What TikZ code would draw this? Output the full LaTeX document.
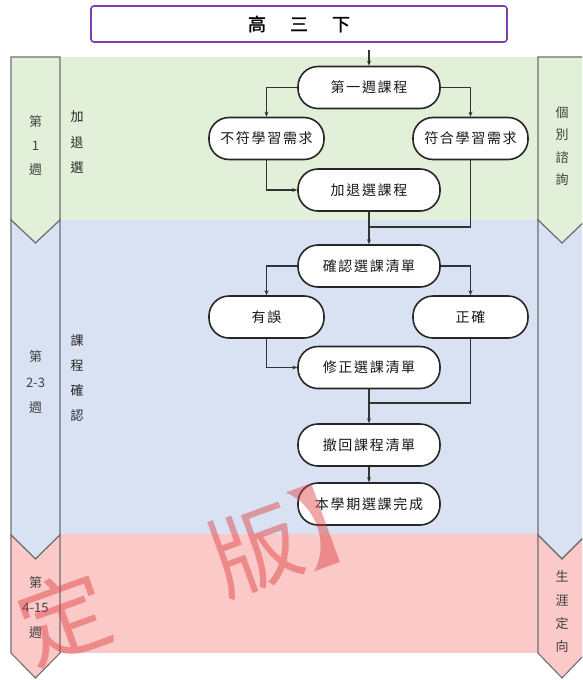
\documentclass[tikz,border=0pt]{standalone}
\usepackage{fontspec}
\setmainfont{Noto Sans CJK TC}
\newfontfamily\nodefont[LetterSpace=12]{Noto Sans CJK TC}
\newfontfamily\titlefont[FakeBold=1.5]{Noto Sans CJK TC}
\usetikzlibrary{arrows.meta}
\definecolor{bgG}{HTML}{E2EFD9}
\definecolor{bgB}{HTML}{D9E2F3}
\definecolor{bgR}{HTML}{FCC9C9}
\definecolor{chevline}{HTML}{6E6E6E}
\definecolor{titleline}{HTML}{7B3FB0}
\definecolor{wm}{HTML}{DC3C3C}
\begin{document}
\begin{tikzpicture}[x=1pt,y=-1pt,
  stad/.style={draw=black!85, line width=1.6pt, fill=white, rounded corners=20pt,
    minimum height=42pt, inner sep=0pt, font=\nodefont\fontsize{14}{16}\selectfont, text=black!90},
  wide/.style={stad, minimum width=142pt},
  narrow/.style={stad, minimum width=115pt},
  chev/.style={draw=chevline, line width=1.1pt},
  ln/.style={draw=black!80, line width=1.2pt},
  arr/.style={ln, -{Stealth[length=5pt,width=4pt]}},
  sidetext/.style={align=center, inner sep=0pt, text=black!75},
]
\useasboundingbox (0,0) rectangle (582,680);
\clip (0,0) rectangle (582,680);

% bands
\fill[bgG] (60,57) rectangle (538,220);
\fill[bgB] (60,220) rectangle (538,534);
\fill[bgR] (60,534) rectangle (538,653);

% left chevrons
\filldraw[chev, fill=bgG] (11,57) -- (60,57) -- (60,220) -- (35.5,243) -- (11,220) -- cycle;
\filldraw[chev, fill=bgB] (11,220) -- (35.5,243) -- (60,220) -- (60,535) -- (35.5,559) -- (11,535) -- cycle;
\filldraw[chev, fill=bgR] (11,535) -- (35.5,559) -- (60,535) -- (60,653) -- (35.5,678) -- (11,653) -- cycle;
% right chevrons
\filldraw[chev, fill=bgG] (538,57) -- (586,57) -- (586,220) -- (562,243) -- (538,220) -- cycle;
\filldraw[chev, fill=bgB] (538,220) -- (562,243) -- (586,220) -- (586,535) -- (562,559) -- (538,535) -- cycle;
\filldraw[chev, fill=bgR] (538,535) -- (562,559) -- (586,535) -- (586,653) -- (562,678) -- (538,653) -- cycle;

% side texts
\node[sidetext, font=\fontsize{13}{24}\selectfont] (w1) at (35.5,146) {第\\1\\週};
\node[sidetext, font=\fontsize{13}{25.5}\selectfont] (w2) at (35.5,382.5) {第\\2-3\\週};
\node[sidetext, font=\fontsize{13}{25}\selectfont] (w3) at (35.5,608) {第\\4-15\\週};
\node[sidetext, text=black!85, font=\fontsize{13}{25.5}\selectfont] (s1) at (77,142.5) {加\\退\\選};
\node[sidetext, text=black!85, font=\fontsize{13}{25}\selectfont] (s2) at (77,377.5) {課\\程\\確\\認};
\node[sidetext, font=\fontsize{13}{22.5}\selectfont] (r1) at (562,146) {個\\別\\諮\\詢};
\node[sidetext, font=\fontsize{13}{23.3}\selectfont] (r2) at (562,612) {生\\涯\\定\\向};

% title
\node[draw=titleline, line width=1.6pt, rounded corners=3pt, fill=white,
  minimum width=416pt, minimum height=36pt, inner sep=0pt,
  font=\titlefont\fontsize{18}{20}\selectfont] (top) at (299,24)
  {高\hspace{24pt}三\hspace{24pt}下};

% flow nodes
\node[wide]   (n1)  at (369,87.5)  {第一週課程};
\node[narrow] (n2)  at (266.5,138.5) {不符學習需求};
\node[narrow] (n3)  at (470.5,138.5) {符合學習需求};
\node[wide]   (n4)  at (369,190)   {加退選課程};
\node[wide]   (n5)  at (369,266)   {確認選課清單};
\node[narrow] (n6)  at (266.5,317) {有誤};
\node[narrow] (n7)  at (470.5,317) {正確};
\node[wide]   (n8)  at (369,367.5) {修正選課清單};
\node[wide]   (n9)  at (369,445)   {撤回課程清單};
\node[wide]   (n10) at (369,504)   {本學期選課完成};

\coordinate (j1) at (369,227);
\coordinate (j2) at (369,403);

% connectors
\draw[arr, shorten <=7pt] (n1.north |- top.south) -- (n1.north);
\draw[arr] (n1.west) -| (n2.north);
\draw[arr] (n1.east) -| (n3.north);
\draw[arr] (n2.south) |- (n4.west);
\draw[ln]  (n3.south) |- (j1);
\draw[arr] (n4.south) -- (n5.north);
\draw[arr] (n5.west) -| (n6.north);
\draw[arr] (n5.east) -| (n7.north);
\draw[arr] (n6.south) |- (n8.west);
\draw[ln]  (n7.south) |- (j2);
\draw[arr] (n8.south) -- (n9.north);
\draw[arr] (n9.south) -- (n10.north);

% watermark
\node[rotate=20, text=wm, text opacity=0.45, inner sep=0pt,
  font=\fontsize{90}{90}\selectfont] (wmk) at (202,568) {定\hspace{113pt}版】};
\end{tikzpicture}
\end{document}
